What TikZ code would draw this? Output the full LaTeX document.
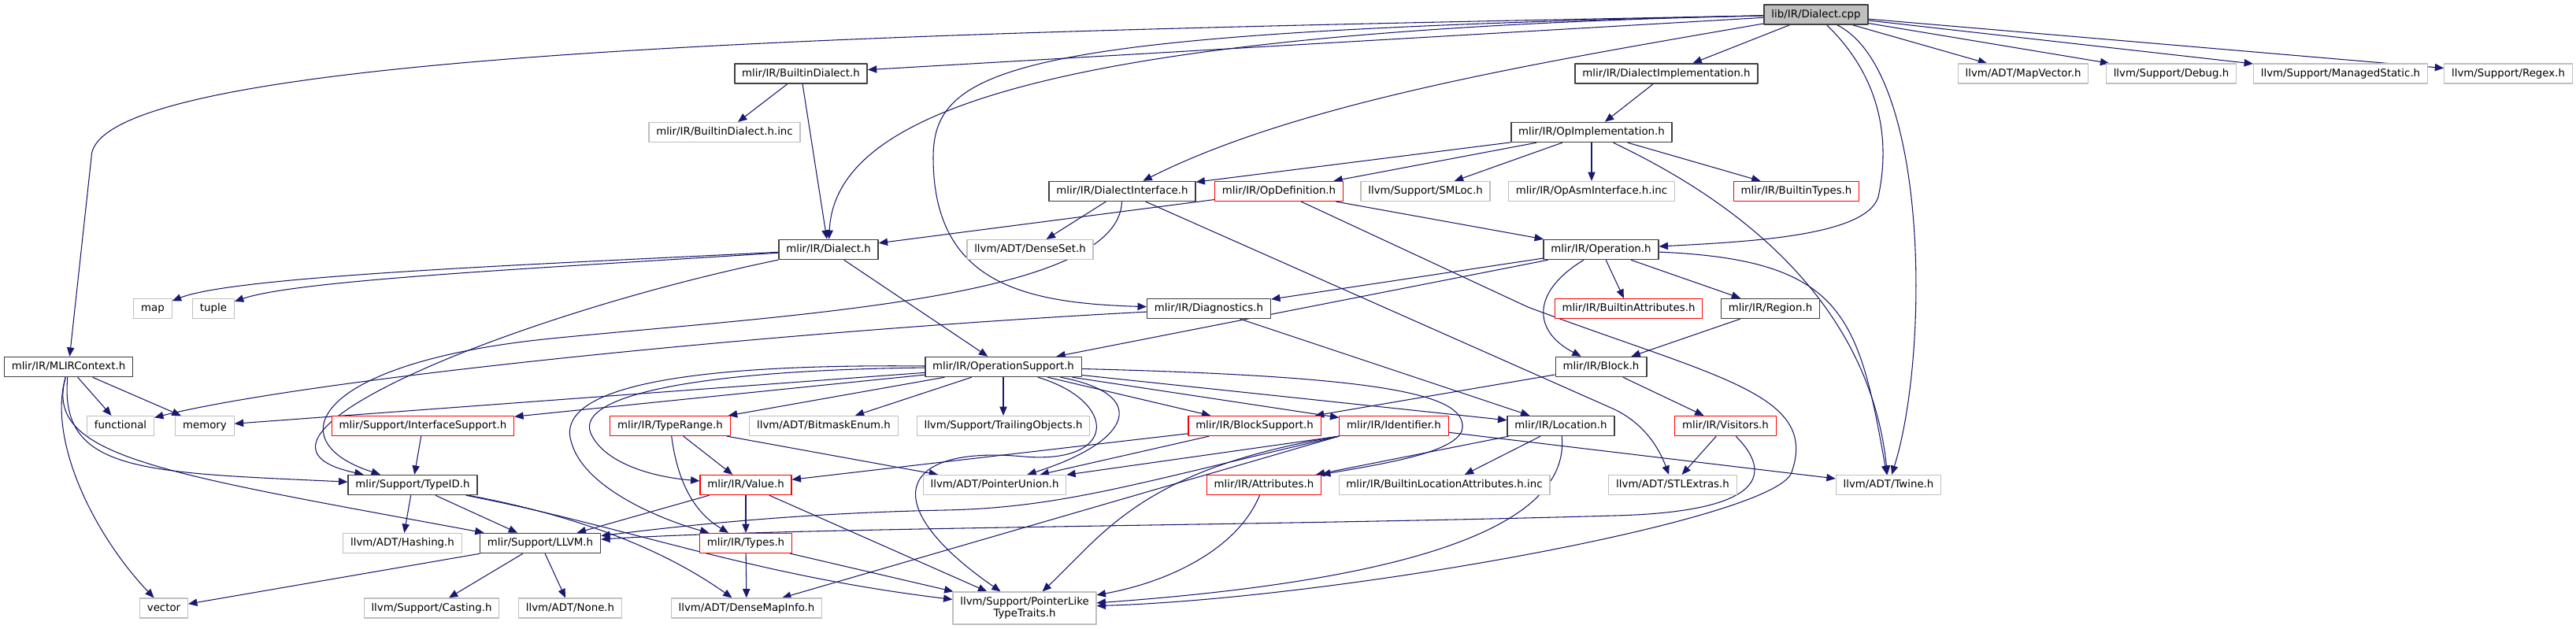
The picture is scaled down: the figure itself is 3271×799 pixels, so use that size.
\documentclass[tikz,border=0pt]{standalone}
\usepackage{fontspec}
\setmainfont{DejaVu Sans}
\usetikzlibrary{arrows.meta,backgrounds}
\definecolor{edgeblue}{HTML}{191970}
\definecolor{grey75}{HTML}{BFBFBF}
\definecolor{docgrey}{HTML}{404040}
\begin{document}
\begin{tikzpicture}[x=0.75pt,y=-0.75pt,>={Triangle[length=8.5pt,width=7pt]},line join=round,font=\fontsize{10}{11}\selectfont,
	box/.style={fill=white,inner xsep=7pt,inner ysep=0pt,minimum height=18.75pt,text height=7.6pt,text depth=2.3pt},
	doc/.style={box,draw=docgrey,line width=1.1pt},
	root/.style={box,draw=docgrey,fill=grey75,line width=1.1pt},
	trunc/.style={box,draw=red,line width=0.9pt},
	ext/.style={box,draw=grey75,line width=0.9pt},
	dep/.style={->,draw=edgeblue,line width=0.8pt}]
	\useasboundingbox (0,0) rectangle (3271,799);
	\node[root] (cpp) at (2306,18.5) {lib/IR/Dialect.cpp};
	\node[doc] (bdia) at (1017,93.5) {mlir/IR/BuiltinDialect.h};
	\node[doc] (dimpl) at (2116,93.5) {mlir/IR/DialectImplementation.h};
	\node[ext] (mapv) at (2569,93.5) {llvm/ADT/MapVector.h};
	\node[ext] (dbg) at (2757,93.5) {llvm/Support/Debug.h};
	\node[ext] (mstat) at (2972,93.5) {llvm/Support/ManagedStatic.h};
	\node[ext] (regex) at (3185,93.5) {llvm/Support/Regex.h};
	\node[ext] (binc) at (920,168) {mlir/IR/BuiltinDialect.h.inc};
	\node[doc] (opimpl) at (2021,168) {mlir/IR/OpImplementation.h};
	\node[doc] (dint) at (1425,243) {mlir/IR/DialectInterface.h};
	\node[trunc] (opdef) at (1624,243) {mlir/IR/OpDefinition.h};
	\node[ext] (smloc) at (1810,243) {llvm/Support/SMLoc.h};
	\node[ext] (asminc) at (2021,243) {mlir/IR/OpAsmInterface.h.inc};
	\node[trunc] (btypes) at (2281,243) {mlir/IR/BuiltinTypes.h};
	\node[doc] (dia) at (1052,317) {mlir/IR/Dialect.h};
	\node[ext] (dset) at (1308,317) {llvm/ADT/DenseSet.h};
	\node[doc] (oper) at (2033,317) {mlir/IR/Operation.h};
	\node[ext] (map) at (194,392) {map};
	\node[ext] (tuple) at (271,392) {tuple};
	\node[doc] (diag) at (1535,392) {mlir/IR/Diagnostics.h};
	\node[trunc] (battr) at (2068,392) {mlir/IR/BuiltinAttributes.h};
	\node[doc] (region) at (2248,392) {mlir/IR/Region.h};
	\node[doc] (ctx) at (87,466) {mlir/IR/MLIRContext.h};
	\node[doc] (opsup) at (1274,466) {mlir/IR/OperationSupport.h};
	\node[doc] (block) at (2033,466) {mlir/IR/Block.h};
	\node[ext] (func) at (153,541) {functional};
	\node[ext] (mem) at (260,541) {memory};
	\node[trunc] (ifsup) at (537,541) {mlir/Support/InterfaceSupport.h};
	\node[trunc] (trange) at (851,541) {mlir/IR/TypeRange.h};
	\node[ext] (bmask) at (1046,541) {llvm/ADT/BitmaskEnum.h};
	\node[ext] (trail) at (1274,541) {llvm/Support/TrailingObjects.h};
	\node[trunc] (bsup) at (1593,541) {mlir/IR/BlockSupport.h};
	\node[trunc] (ident) at (1770,541) {mlir/IR/Identifier.h};
	\node[doc] (loc) at (1982,541) {mlir/IR/Location.h};
	\node[trunc] (visit) at (2191,541) {mlir/IR/Visitors.h};
	\node[doc] (typeid) at (524,616) {mlir/Support/TypeID.h};
	\node[trunc] (value) at (947,616) {mlir/IR/Value.h};
	\node[ext] (punion) at (1263,616) {llvm/ADT/PointerUnion.h};
	\node[trunc] (attr) at (1605,616) {mlir/IR/Attributes.h};
	\node[ext] (blinc) at (1834,616) {mlir/IR/BuiltinLocationAttributes.h.inc};
	\node[ext] (stl) at (2124,616) {llvm/ADT/STLExtras.h};
	\node[ext] (twine) at (2398,616) {llvm/ADT/Twine.h};
	\node[ext] (hash) at (511,690) {llvm/ADT/Hashing.h};
	\node[doc] (llvm) at (686,690) {mlir/Support/LLVM.h};
	\node[trunc] (types) at (947,690) {mlir/IR/Types.h};
	\node[ext] (vector) at (208,772.5) {vector};
	\node[ext] (cast) at (548,772.5) {llvm/Support/Casting.h};
	\node[ext] (noneh) at (724,772.5) {llvm/ADT/None.h};
	\node[ext] (dmi) at (948,772.5) {llvm/ADT/DenseMapInfo.h};
	\node[ext,align=center,text height=,text depth=,minimum height=30.75pt] (ptt) at (1301,772.5) {llvm/Support/PointerLike\\TypeTraits.h};
	\begin{scope}[on background layer]
	\foreach \a/\b in {cpp/bdia,cpp/dimpl,cpp/mapv,cpp/dbg,cpp/mstat,cpp/regex,bdia/binc,bdia/dia,dimpl/opimpl,
		opimpl/dint,opimpl/opdef,opimpl/smloc,opimpl/asminc,opimpl/btypes,dint/dset,opdef/dia,opdef/oper,
		dia/opsup,oper/diag,oper/opsup,oper/battr,oper/region,region/block,diag/loc,ctx/func,ctx/mem,
		opsup/mem,opsup/ifsup,opsup/trange,opsup/bmask,opsup/trail,opsup/bsup,opsup/ident,opsup/loc,
		block/bsup,block/visit,ifsup/typeid,trange/value,trange/punion,bsup/value,bsup/punion,ident/twine,
		loc/attr,loc/blinc,visit/stl,typeid/hash,typeid/llvm,value/llvm,value/types,value/ptt,
		types/dmi,types/ptt,llvm/vector,llvm/cast,llvm/noneh}
	\draw[dep] (\a)--(\b);
	\draw[dep] (cpp) .. controls (1200,40) and (116,60) .. (116,200)--(ctx);
	\draw[dep] (cpp) .. controls (1300,40) and (1060,150) .. (dia);
	\draw[dep] (cpp) .. controls (1950,80) and (1650,130) .. (dint);
	\draw[dep] (cpp) .. controls (1300,40) and (1185,80) .. (1185,200) .. controls (1185,360) and (1300,385) .. (diag);
	\draw[dep] (cpp) .. controls (2390,100) and (2400,180) .. (2385,250) .. controls (2370,300) and (2220,307) .. (oper);
	\draw[dep] (cpp) .. controls (2450,90) and (2450,450) .. (twine);
	\draw[dep] (opimpl) .. controls (2150,230) and (2370,350) .. (twine);
	\draw[dep] (oper) .. controls (2340,330) and (2360,400) .. (twine);
	\draw[dep] (dia) .. controls (700,335) and (300,350) .. (map);
	\draw[dep] (dia) .. controls (700,340) and (380,355) .. (tuple);
	\draw[dep] (dia) .. controls (650,400) and (260,560) .. (typeid);
	\draw[dep] (dint) .. controls (1420,380) and (1000,400) .. (700,430) .. controls (400,460) and (350,560) .. (typeid);
	\draw[dep] (dint)--(2050,520) .. controls (2085,537) and (2105,565) .. (stl);
	\draw[dep] (opdef)--(1940,390) .. controls (2180,480) and (2310,500) .. (2275,600) .. controls (2255,660) and (1700,760) .. (ptt);
	\draw[dep] (oper) .. controls (1945,370) and (1945,420) .. (block);
	\draw[dep] (diag) .. controls (1000,420) and (400,480) .. (func);
	\draw[dep] (ctx) .. controls (75,600) and (180,600) .. (typeid);
	\draw[dep] (ctx) .. controls (55,580) and (200,600) .. (llvm);
	\draw[dep] (ctx) .. controls (60,560) and (120,680) .. (vector);
	\draw[dep] (opsup) .. controls (900,470) and (730,500) .. (750,550) .. controls (765,585) and (820,605) .. (value);
	\draw[dep] (opsup) .. controls (880,462) and (705,490) .. (725,560) .. controls (740,620) and (840,660) .. (types);
	\draw[dep] (opsup) .. controls (1460,500) and (1440,560) .. (punion);
	\draw[dep] (opsup) .. controls (1420,510) and (1420,590) .. (1300,580) .. controls (1140,565) and (1110,640) .. (ptt);
	\draw[dep] (opsup) .. controls (1750,478) and (1860,500) .. (1857,543) .. controls (1855,575) and (1750,590) .. (attr);
	\draw[dep] (trange) .. controls (860,610) and (880,650) .. (types);
	\draw[dep] (ident.south west) .. controls (1450,595) and (1400,680) .. (ptt);
	\draw[dep] (ident.south west) .. controls (1450,612) and (1350,645) .. (1200,648) .. controls (1000,652) and (850,670) .. (llvm);
	\draw[dep] (ident.south west)--(punion);
	\draw[dep] (ident.south west)--(dmi);
	\draw[dep] (visit) .. controls (2250,600) and (2245,650) .. (2050,655) .. controls (1600,668) and (1000,670) .. (llvm);
	\draw[dep] (loc) .. controls (1995,680) and (1750,740) .. (ptt);
	\draw[dep] (attr) .. controls (1570,700) and (1480,740) .. (ptt);
	\draw[dep] (typeid) .. controls (760,660) and (860,710) .. (dmi);
	\draw[dep] (typeid) .. controls (800,670) and (950,730) .. (ptt);
	\end{scope}
\end{tikzpicture}
\end{document}
